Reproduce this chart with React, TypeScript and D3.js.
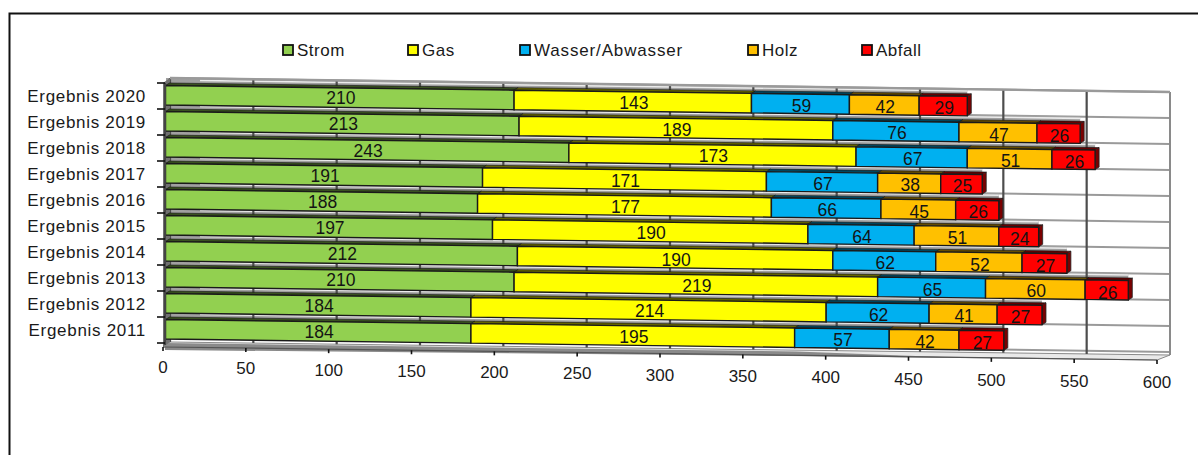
import React from "react";
import * as d3 from "d3";

const years = ["2020", "2019", "2018", "2017", "2016", "2015", "2014", "2013", "2012", "2011"];
const strom = [210, 213, 243, 191, 188, 197, 212, 210, 184, 184];
const gas = [143, 189, 173, 171, 177, 190, 190, 219, 214, 195];
const wasser = [59, 76, 67, 67, 66, 64, 62, 65, 62, 57];
const holz = [42, 47, 51, 38, 45, 51, 52, 60, 41, 42];
const abfall = [29, 26, 26, 25, 26, 24, 27, 26, 27, 27];
const seriesNames = ["Strom", "Gas", "Wasser/Abwasser", "Holz", "Abfall"];
const seriesColors = ["#92D050", "#FFFF00", "#00B0F0", "#FFC000", "#FF0000"];
const xTicks = [0, 50, 100, 150, 200, 250, 300, 350, 400, 450, 500, 550, 600];

const FONT = "'Liberation Sans', Arial, sans-serif";
const W = 1198;
const H = 455;
const SLOPE = 0.0135; // the whole plot leans downward to the right
const legendSwatchX = [283, 408, 520, 748, 862];

const rows = years.map((year, i) => ({
  year,
  Strom: strom[i],
  Gas: gas[i],
  "Wasser/Abwasser": wasser[i],
  Holz: holz[i],
  Abfall: abfall[i],
}));
const stacked = d3.stack<any>().keys(seriesNames)(rows);

const xBar = d3.scaleLinear().domain([0, 600]).range([165.5, 1161.5]);
const xFront = d3.scaleLinear().domain([0, 600]).range([163, 1157]);
const xBack = d3.scaleLinear().domain([0, 600]).range([170, 1170]);
const yBand = d3.scaleBand().domain(years).range([83, 343]);

// vertical shift caused by the lean at a given horizontal position
const lean = (x: number) => (x - 165) * SLOPE;
const pts = (p: [number, number][]) => p.map((c) => c.join(",")).join(" ");

const BAR_TOP = 2.5;
const BAR_H = 19.5;
const DX = 4;
const DY = 2.5;

export default function App() {
  const backTop = (x: number) => 78 + (x - 170) * 0.014;
  const backBottom = (x: number) => 342 + (x - 170) * 0.013;
  const frontBottom = (x: number) => 347 + (x - 163) * 0.0131;
  const bandEdges = [...years.map((y) => yBand(y) as number), 343];

  return (
    <svg
      width={W}
      height={H}
      viewBox={`0 0 ${W} ${H}`}
      style={{ position: "absolute", left: 0, top: 0, background: "#fff" }}
      fontFamily={FONT}
    >
      {/* outer frame: only top and left edges fall inside the view */}
      <path d={`M9.5,${H} V13.5 H${W}`} fill="none" stroke="#111" strokeWidth={2} />

      {/* legend */}
      {seriesNames.map((name, i) => (
        <g key={name}>
          <rect
            x={legendSwatchX[i]}
            y={45}
            width={10}
            height={10}
            fill={seriesColors[i]}
            stroke="#111"
            strokeWidth={1.8}
          />
          <text
            x={legendSwatchX[i] + 14}
            y={56}
            fontSize={17}
            letterSpacing={name === "Wasser/Abwasser" ? 0.85 : 0.5}
            fill="#1a1a1a"
          >
            {name}
          </text>
        </g>
      ))}

      {/* floor of the plot box */}
      <polygon
        points={pts([
          [xFront(0), frontBottom(xFront(0))],
          [xFront(600), frontBottom(xFront(600))],
          [xBack(600), backBottom(xBack(600))],
          [xBack(0), backBottom(xBack(0))],
        ])}
        fill="#e9e9e9"
        stroke="#8a8a8a"
        strokeWidth={1}
      />

      {/* horizontal gridlines on the back wall */}
      {bandEdges.map((edge, i) => (
        <line
          key={i}
          x1={xBack(0)}
          x2={xBack(600)}
          y1={edge - 5}
          y2={edge - 5 + (xBack(600) - xBack(0)) * 0.014}
          stroke="#9a9a9a"
          strokeWidth={2}
        />
      ))}

      {/* grey stripes behind and above each bar */}
      {rows.map((row, i) => {
        const y0 = (yBand(row.year) as number) - 5;
        const total = strom[i] + gas[i] + wasser[i] + holz[i] + abfall[i];
        const x1 = xBar(total);
        return (
          <g key={row.year}>
            <polygon
              points={pts([
                [166, y0 + lean(166)],
                [x1, y0 + lean(x1)],
                [x1, y0 + 6 + lean(x1)],
                [166, y0 + 6 + lean(166)],
              ])}
              fill="#a0a0a0"
            />
            <line
              x1={200}
              x2={x1}
              y1={y0 + 2 + lean(200)}
              y2={y0 + 2 + lean(x1)}
              stroke="#ececec"
              strokeWidth={1.6}
            />
          </g>
        );
      })}

      {/* stripe beneath the lowest bar */}
      <polygon
        points={pts([
          [165, 343],
          [xBar(380), 343 + lean(xBar(380))],
          [xBar(480), 350 + lean(xBar(480)) - 3],
          [165, 350],
        ])}
        fill="#8a8a8a"
      />

      {/* vertical gridlines on the back wall */}
      {xTicks.map((t) => (
        <line
          key={t}
          x1={xBack(t)}
          x2={xBack(t)}
          y1={backTop(xBack(t))}
          y2={backBottom(xBack(t))}
          stroke={t === 600 ? "#8a8a8a" : "#4d4d4d"}
          strokeWidth={t === 600 ? 2 : 2.2}
        />
      ))}
      <line
        x1={xBack(0)}
        x2={xBack(600)}
        y1={backTop(xBack(0))}
        y2={backTop(xBack(600))}
        stroke="#9a9a9a"
        strokeWidth={2.4}
      />

      {/* left wall */}
      <polygon points={pts([[163, 83], [170, 78], [170, 342], [163, 347]])} fill="#707070" />

      {/* stacked bars */}
      {stacked.map((layer, s) =>
        layer.map((d, i) => {
          const year = years[i];
          const top = (yBand(year) as number) + BAR_TOP;
          const x0 = xBar(d[0]);
          const x1 = xBar(d[1]);
          const y0t = top + lean(x0);
          const y1t = top + lean(x1);
          const isLast = s === stacked.length - 1;
          const base = d3.color(seriesColors[s]) as d3.RGBColor;
          return (
            <g key={`${s}-${year}`}>
              <polygon
                points={pts([
                  [x0, y0t],
                  [x0 + DX, y0t - DY],
                  [x1 + DX, y1t - DY],
                  [x1, y1t],
                ])}
                fill={base.darker(2.6).formatHex()}
                stroke="#111"
                strokeWidth={0.6}
              />
              {isLast && (
                <polygon
                  points={pts([
                    [x1, y1t],
                    [x1 + DX, y1t - DY],
                    [x1 + DX, y1t + BAR_H - DY],
                    [x1, y1t + BAR_H],
                  ])}
                  fill="#7a0000"
                  stroke="#222"
                  strokeWidth={0.8}
                />
              )}
              <polygon
                points={pts([
                  [x0, y0t],
                  [x1, y1t],
                  [x1, y1t + BAR_H],
                  [x0, y0t + BAR_H],
                ])}
                fill={seriesColors[s]}
                stroke="#1a1a1a"
                strokeWidth={1.4}
              />
            </g>
          );
        })
      )}

      {/* value labels */}
      {stacked.map((layer, s) =>
        layer.map((d, i) => {
          const cx = xBar((d[0] + d[1]) / 2);
          const top = (yBand(years[i]) as number) + BAR_TOP;
          return (
            <text
              key={`${s}-${years[i]}`}
              x={cx + 1}
              y={top + (cx - 165) * 0.016 + 16}
              textAnchor="middle"
              fontSize={17.5}
              fill="#141414"
            >
              {d[1] - d[0]}
            </text>
          );
        })
      )}

      {/* category axis */}
      <line x1={165} x2={165} y1={83} y2={345} stroke="#444" strokeWidth={2} />
      {bandEdges.map((edge, i) => (
        <line key={i} x1={157} x2={165} y1={edge} y2={edge} stroke="#111" strokeWidth={1.6} />
      ))}
      {years.map((year) => (
        <text
          key={year}
          x={146}
          y={(yBand(year) as number) + 19}
          textAnchor="end"
          fontSize={17}
          letterSpacing={0.7}
          fill="#1a1a1a"
        >
          {`Ergebnis ${year}`}
        </text>
      ))}

      {/* value axis */}
      <line
        x1={xFront(0)}
        x2={xFront(600)}
        y1={frontBottom(xFront(0))}
        y2={frontBottom(xFront(600))}
        stroke="#555"
        strokeWidth={1.2}
      />
      {xTicks.map((t) => {
        const x = xFront(t);
        const y = frontBottom(x);
        return (
          <g key={t}>
            <line x1={x} x2={x} y1={y} y2={y + 4} stroke="#111" strokeWidth={1.6} />
            <text
              x={x}
              y={373 + (x - 163) * 0.0155}
              textAnchor="middle"
              fontSize={17}
              fill="#1a1a1a"
            >
              {t}
            </text>
          </g>
        );
      })}
    </svg>
  );
}
